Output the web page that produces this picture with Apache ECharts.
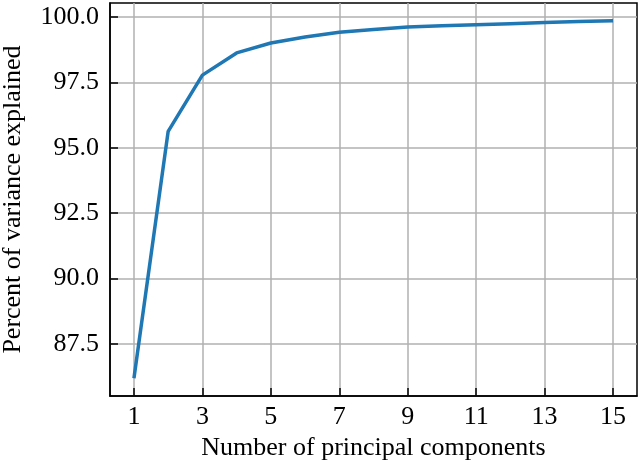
<!DOCTYPE html>
<html>
<head>
<meta charset="utf-8">
<script src="https://cdn.jsdelivr.net/npm/echarts@6/dist/echarts.min.js"></script>
<style>html,body{margin:0;padding:0;background:#fff}#c{width:640px;height:465px}</style>
</head>
<body>
<div id="c"></div>
<script>
const components = [1,2,3,4,5,6,7,8,9,10,11,12,13,14,15];
const varianceExplained = [86.18,95.63,97.78,98.63,99.01,99.24,99.42,99.53,99.62,99.67,99.71,99.75,99.79,99.83,99.86];
const xTicks = [1,3,5,7,9,11,13,15];
const yTicks = [87.5,90.0,92.5,95.0,97.5,100.0];

const font = "'Liberation Serif','Times New Roman','DejaVu Serif',serif";
const chart = echarts.init(document.getElementById('c'), null, {renderer:'canvas'});
chart.setOption({
  animation:false,
  grid:{left:110,right:3,top:3,bottom:69,outerBoundsMode:'none',containLabel:false,show:true,borderColor:'#000',borderWidth:1.5,backgroundColor:'transparent'},
  xAxis:{
    type:'value',min:0.3,max:15.7,
    name:'Number of principal components',nameLocation:'middle',nameGap:38,
    nameTextStyle:{fontFamily:font,fontSize:26,color:'#000'},
    axisLine:{show:true,lineStyle:{color:'#000',width:1.5}},
    axisTick:{show:true,inside:true,length:8,lineStyle:{color:'#000',width:1.5},customValues:xTicks},
    axisLabel:{fontFamily:font,fontSize:26,color:'#000',margin:8,customValues:xTicks,formatter:v=>String(v)},
    splitLine:{show:true,lineStyle:{color:'#b0b0b0',width:1.5}}
  },
  yAxis:{
    type:'value',min:85.5,max:100.54,
    name:'Percent of variance explained',nameLocation:'middle',nameGap:84,
    nameTextStyle:{fontFamily:font,fontSize:26,color:'#000'},
    axisLine:{show:true,lineStyle:{color:'#000',width:1.5}},
    axisTick:{show:true,inside:true,length:8,lineStyle:{color:'#000',width:1.5},customValues:yTicks},
    axisLabel:{fontFamily:font,fontSize:26,color:'#000',margin:11,customValues:yTicks,formatter:v=>v.toFixed(1)},
    splitLine:{show:true,lineStyle:{color:'#b0b0b0',width:1.5}}
  },
  series:[{
    type:'line',
    data:components.map((c,i)=>[c,varianceExplained[i]]),
    showSymbol:false,symbol:'none',
    lineStyle:{color:'#1f77b4',width:3.5},
    itemStyle:{color:'#1f77b4'}
  }]
});
</script>
</body>
</html>
